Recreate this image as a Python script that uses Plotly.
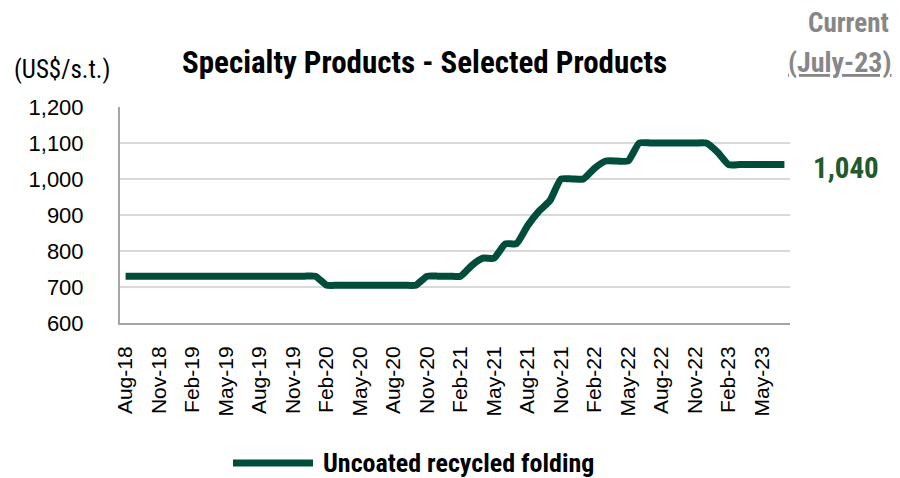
import plotly.graph_objects as go

months = ["Aug-18", "Sep-18", "Oct-18", "Nov-18", "Dec-18", "Jan-19", "Feb-19", "Mar-19", "Apr-19", "May-19",
          "Jun-19", "Jul-19", "Aug-19", "Sep-19", "Oct-19", "Nov-19", "Dec-19", "Jan-20", "Feb-20", "Mar-20",
          "Apr-20", "May-20", "Jun-20", "Jul-20", "Aug-20", "Sep-20", "Oct-20", "Nov-20", "Dec-20", "Jan-21",
          "Feb-21", "Mar-21", "Apr-21", "May-21", "Jun-21", "Jul-21", "Aug-21", "Sep-21", "Oct-21", "Nov-21",
          "Dec-21", "Jan-22", "Feb-22", "Mar-22", "Apr-22", "May-22", "Jun-22", "Jul-22", "Aug-22", "Sep-22",
          "Oct-22", "Nov-22", "Dec-22", "Jan-23", "Feb-23", "Mar-23", "Apr-23", "May-23", "Jun-23", "Jul-23"]

prices = [730] * 18 + [705] * 9 + [730] * 4 + [760, 780, 780, 820, 820, 870, 910, 940,
          1000, 1000, 1000, 1030, 1050, 1050, 1050] + [1100] * 7 + [1075] + [1040] * 6

tick_labels = months[::3]
y_ticks = [600, 700, 800, 900, 1000, 1100, 1200]

series_name = "Uncoated recycled folding"
title_text = "Specialty Products - Selected Products"
unit_text = "(US$/s.t.)"

NARROW = "Roboto Condensed, Liberation Sans Narrow, Arial Narrow, sans-serif"
REG = "Liberation Sans, Arial, sans-serif"
LINE_COLOR = "#004d3b"

# plot area on screen: x 120..790, y 107..323 (page body adds an 8px offset)
OFF = 8
fig = go.Figure()
fig.add_trace(go.Scatter(
    x=months, y=prices, mode="lines", name=series_name,
    line=dict(color=LINE_COLOR, width=7, shape="spline", smoothing=0.5),
    showlegend=False,
))

fig.update_layout(
    width=900, height=478,
    margin=dict(l=120 - OFF, r=900 - 790 + OFF, t=107 - OFF, b=478 - 323 + OFF),
    paper_bgcolor="white", plot_bgcolor="white",
    xaxis=dict(
        type="category", range=[-0.5, len(months) - 0.5],
        tickmode="array", tickvals=tick_labels, ticktext=tick_labels,
        tickangle=-90, tickfont=dict(family=REG, size=21, color="#000000"),
        showgrid=False, showline=True, linecolor="#a6a6a6", linewidth=2,
        ticks="", ticklabelstandoff=13, zeroline=False, automargin=False,
    ),
    yaxis=dict(
        range=[600, 1200], tickmode="array", tickvals=y_ticks, tickformat=",d",
        tickfont=dict(family=REG, size=22, color="#000000"),
        showgrid=True, gridcolor="#d9d9d9", gridwidth=1.5,
        showline=True, linecolor="#a6a6a6", linewidth=2,
        ticks="", ticklabelstandoff=30, zeroline=False, automargin=False,
    ),
)

annotations = [
    dict(text="<b>" + title_text + "</b>", x=(424 - 120) / 670, y=(323 - 62) / 216,
         xref="paper", yref="paper", xanchor="center", yanchor="middle", showarrow=False,
         font=dict(family=NARROW, size=31, color="#000000")),
    dict(text=unit_text, x=(12 - 120) / 670, y=(323 - 69) / 216,
         xref="paper", yref="paper", xanchor="left", yanchor="middle", showarrow=False,
         font=dict(family=NARROW, size=25, color="#000000")),
    dict(text="<b>Current</b>", x=(891 - 120) / 670, y=(323 - 23) / 216,
         xref="paper", yref="paper", xanchor="right", yanchor="middle", showarrow=False,
         font=dict(family=NARROW, size=27, color="#878787")),
    dict(text="<b><u>(July-23)</u></b>", x=(894 - 120) / 670, y=(323 - 62) / 216,
         xref="paper", yref="paper", xanchor="right", yanchor="middle", showarrow=False,
         font=dict(family=NARROW, size=28, color="#878787")),
    dict(text="<b>" + f"{prices[-1]:,}" + "</b>", x=(811 - 120) / 670, y=prices[-1] - 10,
         xref="paper", yref="y", xanchor="left", yanchor="middle", showarrow=False,
         font=dict(family=NARROW, size=29, color="#215a2b")),
    dict(text="<b>" + series_name + "</b>", x=(321 - 120) / 670, y=(323 - 463) / 216,
         xref="paper", yref="paper", xanchor="left", yanchor="middle", showarrow=False,
         font=dict(family=NARROW, size=26, color="#000000")),
]
fig.update_layout(annotations=annotations)

fig.add_shape(type="line", xref="paper", yref="paper",
              x0=(233 - 120) / 670, x1=(313 - 120) / 670,
              y0=(323 - 463) / 216, y1=(323 - 463) / 216,
              line=dict(color=LINE_COLOR, width=7))

fig.write_html("out.html")
